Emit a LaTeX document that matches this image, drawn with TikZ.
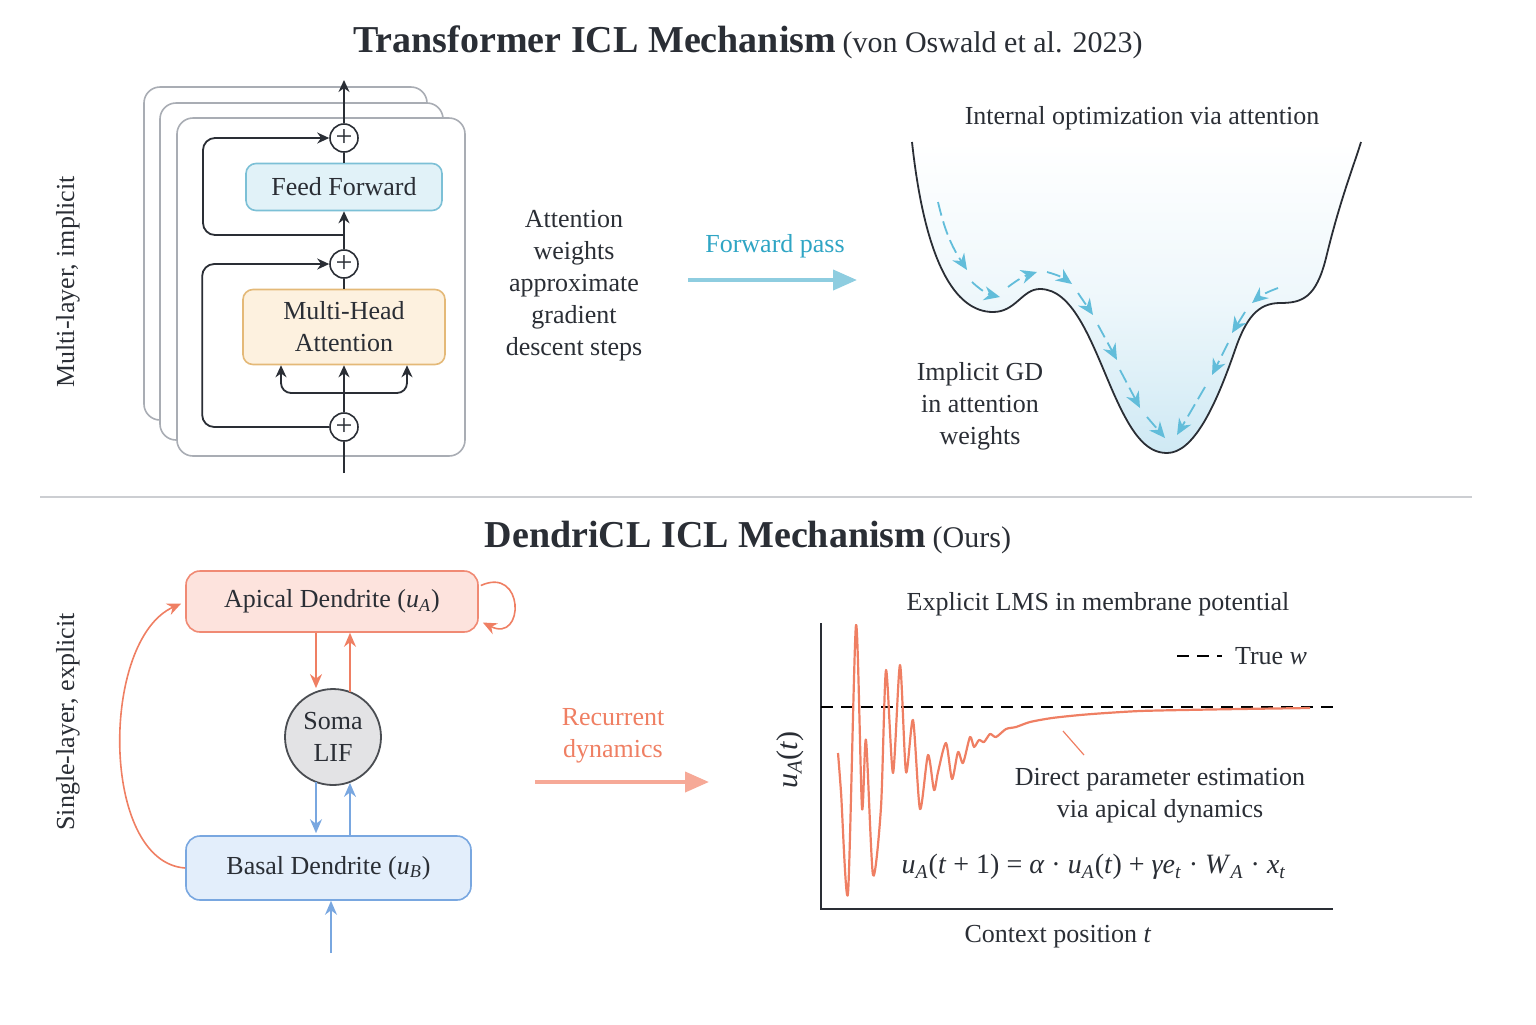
\documentclass[tikz,border=0pt]{standalone}
\usepackage{fontspec}
\setmainfont{Liberation Serif}
\usetikzlibrary{positioning,calc,arrows.meta}
\definecolor{ink}{HTML}{2A2E35}
\definecolor{layergray}{HTML}{A9ADB4}
\definecolor{ffpanel}{HTML}{E1F2F8}
\definecolor{ffedge}{HTML}{7CC0D6}
\definecolor{mhapanel}{HTML}{FDF1DF}
\definecolor{mhaedge}{HTML}{E4B978}
\definecolor{icltext}{HTML}{2FA5C4}
\definecolor{fwdarrow}{HTML}{8ECDE0}
\definecolor{landblue}{HTML}{CFE9F4}
\definecolor{gdcyan}{HTML}{62BDDA}
\definecolor{apicalpanel}{HTML}{FDE3DD}
\definecolor{apicaledge}{HTML}{F08A74}
\definecolor{salmon}{HTML}{EF7F63}
\definecolor{recarrow}{HTML}{F6A997}
\definecolor{basalpanel}{HTML}{E3EEFB}
\definecolor{basaledge}{HTML}{79A7E0}
\definecolor{somafill}{HTML}{E3E3E5}
\definecolor{somaedge}{HTML}{4A4D52}
\definecolor{rulegray}{HTML}{CCCED2}
% italic symbols in the text face
\newcommand{\vi}[1]{\textit{#1}}
\newcommand{\vsub}[2]{\textit{#1}\textsubscript{\textit{#2}}}

\begin{document}
\begin{tikzpicture}[x=0.5pt, y=-0.5pt, font=\fontsize{13}{16}\selectfont, text=ink,
  layer/.style={draw=layergray, fill=white, line width=0.8pt, rounded corners=8pt},
  block/.style={rounded corners=5pt, line width=0.8pt, align=center, inner sep=0pt},
  addop/.style={circle, draw=ink, fill=white, line width=0.8pt, minimum size=14pt, inner sep=0pt, font=\fontsize{15}{15}\selectfont},
  flow/.style={draw=ink, line width=0.9pt, -{Stealth[length=6pt,width=5.5pt]}},
  gdstep/.style={draw=gdcyan, line width=0.9pt, dash pattern=on 7pt off 3pt, -{Stealth[length=8pt,width=7pt]}},
  redarr/.style={draw=salmon, line width=0.8pt, -{Stealth[length=7pt,width=6pt]}},
  bluearr/.style={draw=basaledge, line width=0.8pt, -{Stealth[length=7pt,width=6pt]}},
  bigarrow/.style={line width=2pt, -{Triangle[length=12pt,width=10pt]}},
  sidelabel/.style={rotate=90, font=\fontsize{13}{16}\selectfont}]
\useasboundingbox (0,0) rectangle (1536,1024);

% ---------- top half: transformer ----------
\node (title1) at (748,42) {{\fontsize{19}{22}\selectfont\bfseries Transformer ICL Mechanism}\ {\fontsize{15}{18}\selectfont (von Oswald et al. 2023)}};
\node[sidelabel] (multi) at (68,282) {Multi-layer, implicit};

\draw[layer] (144,87) rectangle (427,420);
\draw[layer] (160,103) rectangle (443,440);
\draw[layer] (177,118) rectangle (465,456);

\node[block, draw=ffedge, fill=ffpanel, minimum width=98pt, minimum height=23.5pt] (ff) at (344,187) {Feed Forward};
\node[block, draw=mhaedge, fill=mhapanel, minimum width=101pt, minimum height=37.5pt] (mha) at (344,327) {Multi-Head\\Attention};
\node[addop] (add3) at (344,138) {+};
\node[addop] (add2) at (344,264) {+};
\node[addop] (add1) at (344,427) {+};
\coordinate (xin) at (344,473);
\coordinate (xout) at (344,80);
\coordinate (split) at (344,393);
\coordinate (ffsplit) at (344,235);

\draw[ink, line width=0.9pt] (xin) -- (add1.south);
\draw[ink, line width=0.9pt] (add1.north) -- (split);
\draw[flow] (split) -- (mha.south);
\draw[flow, rounded corners=5pt] (split) -| ($(mha.south)+(-63,0)$);
\draw[flow, rounded corners=5pt] (split) -| ($(mha.south)+(63,0)$);
\draw[ink, line width=0.9pt] (mha.north) -- (add2.south);
\draw[flow] (add2.north) -- (ff.south);
\draw[ink, line width=0.9pt] (ff.north) -- (add3.south);
\draw[flow] (add3.north) -- (xout);
\draw[flow, rounded corners=6pt] (add1.west) -- ++(-127,0) |- (add2.west);
\draw[flow, rounded corners=6pt] (ffsplit) -- ++(-141,0) |- (add3.west);

\node[align=center] (gdnote) at (574,286) {Attention\\weights\\approximate\\gradient\\descent steps};
\coordinate (fwdA) at (688,280);
\coordinate (fwdB) at (857,280);
\draw[bigarrow, draw=fwdarrow] (fwdA) -- (fwdB);
\node[text=icltext] (fwdlabel) at (775,246) {Forward pass};

\node (landtitle) at (1142,118) {Internal optimization via attention};
\def\landscape{(912,142) .. controls (925,262) and (955,312) .. (993,312)
  .. controls (1016,312) and (1022,289) .. (1040,289)
  .. controls (1072,289) and (1090,338) .. (1110,385)
  .. controls (1130,432) and (1145,453) .. (1167,453)
  .. controls (1193,453) and (1215,408) .. (1235,350)
  .. controls (1246,318) and (1258,303) .. (1280,303)
  .. controls (1302,303) and (1316,298) .. (1326,258)
  .. controls (1340,200) and (1354,165) .. (1361,142)}
\shade[top color=white, bottom color=landblue, middle color=landblue!35] \landscape -- cycle;
\draw[ink, line width=0.9pt] \landscape;

\draw[gdstep] (938,202) to[bend right=10] (967,270);
\draw[gdstep] (972,282) to[bend right=15] (1000,297);
\draw[gdstep] (1008,287) to[bend left=10] (1037,272);
\draw[gdstep] (1047,272) to[bend left=10] (1072,284);
\draw[gdstep] (1078,293) -- (1093,315);
\draw[gdstep] (1098,325) -- (1117,360);
\draw[gdstep] (1120,370) -- (1140,408);
\draw[gdstep] (1147,417) -- (1165,438);
\draw[gdstep] (1278,288) to[bend right=10] (1252,303);
\draw[gdstep] (1245,312) -- (1232,333);
\draw[gdstep] (1228,343) -- (1212,375);
\draw[gdstep] (1205,387) -- (1177,435);

\node[align=center] (gdlabel) at (980,406) {Implicit GD\\in attention\\weights};

% separator
\draw[rulegray, line width=0.8pt] (40,497) -- (1472,497);

% ---------- bottom half: DendriCL ----------
\node (title2) at (748,537) {{\fontsize{19}{22}\selectfont\bfseries DendriCL ICL Mechanism}\ {\fontsize{15}{18}\selectfont (Ours)}};
\node[sidelabel] (single) at (68,722) {Single-layer, explicit};

\node[block, draw=apicaledge, fill=apicalpanel, minimum width=146pt, minimum height=30.5pt, rounded corners=7pt] (apical) at (332,601.5) {Apical Dendrite (\vsub{u}{A})};
\node[block, draw=basaledge, fill=basalpanel, minimum width=142.5pt, minimum height=32pt, rounded corners=7pt] (basal) at (328.5,868) {Basal Dendrite (\vsub{u}{B})};
\node[circle, draw=somaedge, fill=somafill, line width=0.9pt, minimum size=48pt, inner sep=0pt, align=center] (soma) at (333,737) {Soma\\LIF};

\coordinate (apdown) at ($(apical.south)+(-16,0)$);
\coordinate (apup) at ($(apical.south)+(18,0)$);
\coordinate (sodown) at ($(soma.south)+(-17,-4)$);
\coordinate (soup) at ($(soma.south)+(17,-3)$);
\coordinate (bin) at (331,953);
\draw[redarr] (apdown) -- (apdown |- soma.north);
\draw[redarr] ($(apup |- soma.north)+(0,4)$) -- (apup);
\draw[bluearr] (sodown) -- ($(sodown |- basal.north)+(0,-2)$);
\draw[bluearr] (soup |- basal.north) -- (soup);
\draw[bluearr] (bin) -- (bin |- basal.south);
\draw[redarr] ($(apical.east)+(2,-16)$) .. controls ($(apical.east)+(46,-36)$) and ($(apical.east)+(46,42)$) .. ($(apical.east)+(4,21)$);
\draw[redarr] (basal.west) .. controls (100,862) and (100,640) .. ($(apical.west)+(-4,2)$);

\node[text=salmon, align=center] (reclabel) at (613,736) {Recurrent\\dynamics};
\coordinate (recA) at (535,782);
\coordinate (recB) at (709,782);
\draw[bigarrow, draw=recarrow] (recA) -- (recB);

% plot
\node (plottitle) at (1098,604) {Explicit LMS in membrane potential};
\draw[ink, line width=0.9pt] (821,623) -- (821,909) -- (1333,909);
\node[rotate=90, font=\fontsize{15}{18}\selectfont] (ylab) at (790,760) {\vsub{u}{A}(\vi{t})};
\node (xlab) at (1058,937) {Context position \vi{t}};
\draw[black, line width=0.9pt, dash pattern=on 6pt off 4pt] (821,707) -- (1333,707);
\draw[black, line width=0.9pt, dash pattern=on 6pt off 4pt] (1177,656) -- (1222,656);
\node[anchor=west] (legend) at (1228,656) {True \vi{w}};

\draw[salmon, line width=1.1pt, line join=round] plot[smooth, tension=0.45] coordinates {
  (838,753) (841,792) (848,893) (856,625) (862,808) (866,740) (873,875) (881,807)
  (886,670) (893,773) (900,665) (906,772) (913,720) (920,809) (928,755) (934,790)
  (938,772) (946,743) (952,779) (958,752) (963,763) (970,737) (974,747) (979,740)
  (984,742) (990,734) (996,737) (1006,729) (1016,727) (1030,722) (1052,718)
  (1080,715) (1106,713) (1140,711) (1183,710) (1240,709) (1310,708)};
\draw[salmon, line width=0.6pt] (1063,731) -- (1084,755);
\node[align=center] (lmsnote) at (1160,796) {Direct parameter estimation\\via apical dynamics};
\node[font=\fontsize{14}{16}\selectfont] (update) at (1094,867) {\vsub{u}{A}(\vi{t}~+~1) = \vi{α}~·~\vsub{u}{A}(\vi{t})~+~\vi{γe}\textsubscript{\vi{t}}~·~\vsub{W}{A}~·~\vsub{x}{t}};
\end{tikzpicture}
\end{document}
